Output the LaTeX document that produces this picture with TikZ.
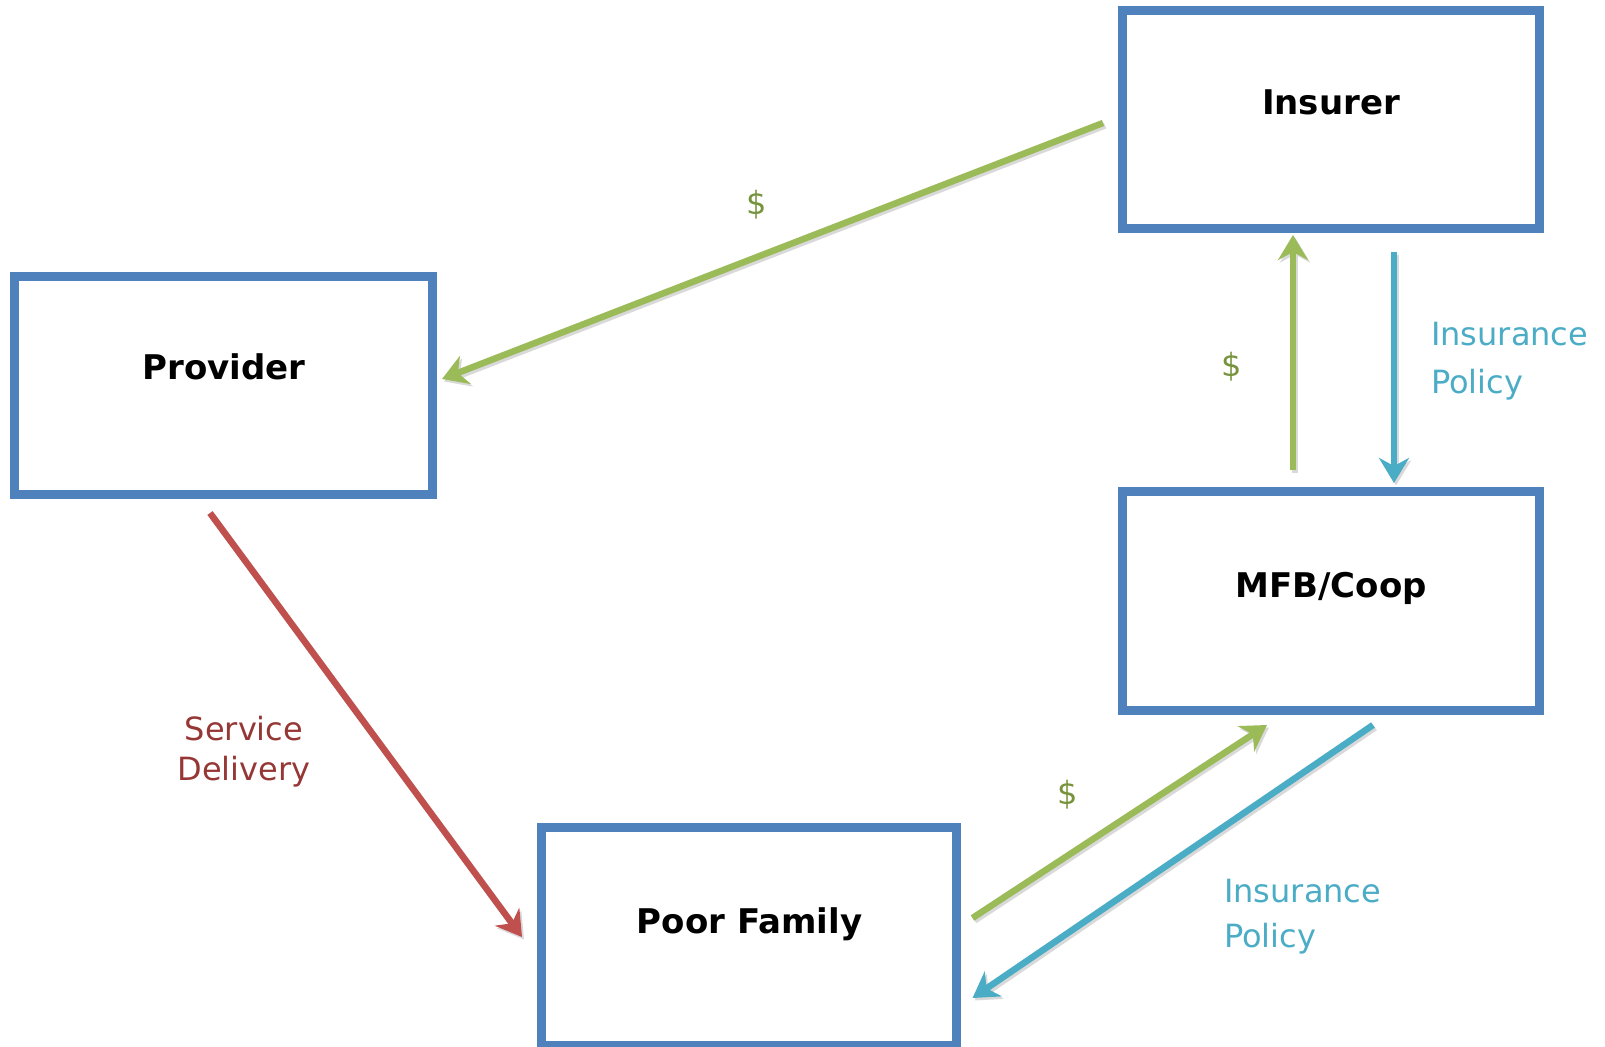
\documentclass[tikz,border=0pt]{standalone}
\usepackage{fontspec}
\setmainfont{DejaVu Sans}
\usetikzlibrary{calc,arrows.meta}
\definecolor{boxblue}{HTML}{4F81BD}
\definecolor{arrgreen}{HTML}{9BBB59}
\definecolor{arrred}{HTML}{C0504D}
\definecolor{arrcyan}{HTML}{4BACC6}
\definecolor{dollarcol}{HTML}{77933C}
\definecolor{servcol}{HTML}{953735}
\definecolor{inscol}{HTML}{4BACC6}
\tikzset{
  entity/.style={draw=boxblue, line width=9pt, fill=white, rectangle, inner sep=0pt, outer sep=0pt},
  boxtext/.style={font=\fontsize{34}{40}\selectfont\bfseries, text=black, inner sep=0pt, text height=24.8pt, text depth=0pt},
  flow/.style={line width=6.5pt, -{Stealth[length=25pt,width=30pt,inset=8pt]},
    preaction={draw=black!15, line width=6.5pt, transform canvas={shift={(2pt,-2.5pt)}}}},
  greenflow/.style={flow, draw=arrgreen, fill=arrgreen},
  cyanflow/.style={flow, draw=arrcyan, fill=arrcyan},
  redflow/.style={flow, draw=arrred, fill=arrred},
  dollar/.style={font=\fontsize{32}{40}\selectfont, text=dollarcol, inner sep=0pt},
  flowtext/.style={font=\fontsize{32}{48}\selectfont, inner sep=0pt, anchor=base west, align=left},
}
\begin{document}
\begin{tikzpicture}[x=1pt,y=-1pt]
\useasboundingbox (0,0) rectangle (1605,1046);
% boxes
\node[entity, minimum width=417pt, minimum height=217pt] (ins) at (1331,119.5) {};
\node[entity, minimum width=418pt, minimum height=218pt] (prov) at (223,385) {};
\node[entity, minimum width=417pt, minimum height=219pt] (mfb) at (1330.5,601) {};
\node[entity, minimum width=415pt, minimum height=218pt] (fam) at (749,936) {};
% box texts
\node[boxtext] (tins) at (1331,102) {Insurer};
\node[boxtext] (tprov) at (224,367) {Provider};
\node[boxtext] (tmfb) at (1331,585) {MFB/Coop};
\node[boxtext] (tfam) at (749.5,921) {Poor Family};
% connectors
\draw[greenflow] ($(ins.west)+(-19.5,3.5)$) -- ($(prov.east)+(10,-6)$);
\draw[greenflow] ($(mfb.north)+(-37.5,-21.5)$) -- ($(ins.south)+(-38,7)$);
\draw[cyanflow] ($(ins.south)+(63,24)$) -- ($(mfb.north)+(63.5,-8.5)$);
\draw[greenflow] ($(fam.east)+(16,-18)$) -- ($(mfb.south)+(-63.5,14.5)$);
\draw[cyanflow] ($(mfb.south)+(42.5,14.5)$) -- ($(fam.east)+(16,62)$);
\draw[redflow] ($(prov.south)+(-13,19)$) -- ($(fam.west)+(-19.5,1)$);
% labels
\node[dollar] (d1) at (757,205) {\$};
\node[dollar] (d2) at (1232,367) {\$};
\node[dollar] (d3) at (1068,795) {\$};
\node[flowtext, text=inscol] (ip1) at (1431,393) {Insurance\\Policy};
\node[flowtext, text=inscol, font=\fontsize{32}{45}\selectfont] (ip2) at (1224,947) {Insurance\\Policy};
\node[font=\fontsize{32}{40}\selectfont, text=servcol, inner sep=0pt, anchor=base, align=center] (sd) at (244,780) {Service\\Delivery};
\end{tikzpicture}
\end{document}
